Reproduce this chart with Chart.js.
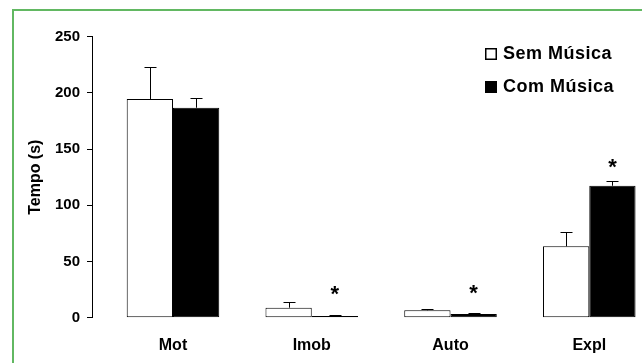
<!DOCTYPE html>
<html>
<head>
<meta charset="utf-8">
<script src="https://cdn.jsdelivr.net/npm/chart.js@4.4.1/dist/chart.umd.min.js"></script>
<style>
  html, body { margin: 0; padding: 0; background: #fff; overflow: hidden; }
  #frame { position: absolute; left: 12px; top: 9px; width: 700px; height: 400px; border: 2px solid #62b862; }
  #wrap { position: absolute; left: 0; top: 0; width: 642px; height: 363px; }
</style>
</head>
<body>
<div id="frame"></div>
<div id="wrap"><canvas id="chart" width="642" height="363"></canvas></div>
<script>
const categories = ['Mot', 'Imob', 'Auto', 'Expl'];
const semMusica = [194.6, 8.9, 6.6, 63.5];
const semErro = [28.2, 5.3, 1.1, 12.5];
const comMusica = [186.8, 1.5, 3.3, 117.4];
const comErro = [8.9, 0.6, 1.2, 4.2];
// altura (s) onde fica o asterisco de significância
const estrelas = [null, 24, 25, 137];
const yTicks = [0, 50, 100, 150, 200, 250];

const FONT = "'Liberation Sans', Arial, Helvetica, sans-serif";

const errBars = {
  id: 'errBars',
  afterDatasetsDraw(chart) {
    const { ctx, scales: { y } } = chart;
    ctx.save();
    ctx.strokeStyle = '#000';
    ctx.lineWidth = 1;
    chart.data.datasets.forEach((ds, d) => {
      chart.getDatasetMeta(d).data.forEach((bar, i) => {
        const x = Math.round(bar.x) + 0.5;
        const top = Math.round(y.getPixelForValue(ds.data[i].y + ds.erro[i])) + 0.5;
        ctx.beginPath();
        ctx.moveTo(x, bar.y);
        ctx.lineTo(x, top);
        ctx.moveTo(x - 6, top);
        ctx.lineTo(x + 6, top);
        ctx.stroke();
      });
    });

    // asteriscos
    ctx.fillStyle = '#000';
    ctx.font = 'bold 22px ' + FONT;
    ctx.textAlign = 'center';
    ctx.textBaseline = 'alphabetic';
    const m = ctx.measureText('*');
    const off = (m.actualBoundingBoxAscent - m.actualBoundingBoxDescent) / 2;
    const meta = chart.getDatasetMeta(1);
    estrelas.forEach((v, i) => {
      if (v == null) return;
      ctx.fillText('*', meta.data[i].x, y.getPixelForValue(v) + off);
    });
    ctx.restore();
  }
};

const legenda = {
  id: 'legenda',
  afterDraw(chart) {
    const { ctx } = chart;
    const items = chart.data.datasets;
    ctx.save();
    ctx.font = 'bold 18px ' + FONT;
    ctx.letterSpacing = '0.5px';
    ctx.textAlign = 'left';
    ctx.textBaseline = 'alphabetic';
    items.forEach((ds, i) => {
      const top = 48 + i * 33;
      ctx.fillStyle = ds.backgroundColor;
      ctx.fillRect(485, top, 12, 12);
      ctx.strokeStyle = '#000';
      ctx.lineWidth = 1.5;
      ctx.strokeRect(485.75, top + 0.75, 10.5, 10.5);
      ctx.fillStyle = '#000';
      ctx.fillText(ds.label, 503, top + 11);
    });
    ctx.restore();
  }
};

new Chart(document.getElementById('chart'), {
  type: 'bar',
  data: {
    datasets: [
      {
        label: 'Sem Música',
        data: categories.map((c, i) => ({ x: i, y: semMusica[i] })),
        erro: semErro,
        backgroundColor: '#ffffff',
        borderColor: '#000',
        borderWidth: 1,
        borderSkipped: false
      },
      {
        label: 'Com Música',
        data: categories.map((c, i) => ({ x: i, y: comMusica[i] })),
        erro: comErro,
        backgroundColor: '#000000',
        borderColor: '#000',
        borderWidth: 1,
        borderSkipped: false
      }
    ]
  },
  options: {
    responsive: false,
    animation: false,
    devicePixelRatio: 1,
    categoryPercentage: 0.667,
    barPercentage: 1,
    layout: { padding: { left: 0, right: 0, top: 36.7, bottom: 8 } },
    plugins: { legend: { display: false }, tooltip: { enabled: false } },
    scales: {
      x: {
        type: 'linear',
        offset: false,
        min: -0.5837,
        max: 3.38,
        afterBuildTicks: s => { s.ticks = categories.map((c, i) => ({ value: i })); },
        afterFit: s => { s.height = 37.3; },
        grid: { display: false, drawTicks: false },
        border: { display: false },
        ticks: {
          padding: 18,
          color: '#000',
          font: { family: FONT, size: 16, weight: 'bold' },
          callback: v => categories[v] ?? ''
        }
      },
      y: {
        min: 0,
        max: 250,
        afterBuildTicks: s => { s.ticks = yTicks.map(v => ({ value: v })); },
        afterFit: s => { s.width = 92; },
        grid: { drawOnChartArea: false, tickLength: 5, color: '#000' },
        border: { color: '#000', width: 1 },
        ticks: {
          padding: 7,
          color: '#000',
          font: { family: FONT, size: 15, weight: 'bold' }
        },
        title: {
          display: true,
          text: 'Tempo (s)',
          color: '#000',
          padding: { top: 26, bottom: 0 },
          font: { family: FONT, size: 16, weight: 'bold' }
        }
      }
    }
  },
  plugins: [errBars, legenda]
});
</script>
</body>
</html>
